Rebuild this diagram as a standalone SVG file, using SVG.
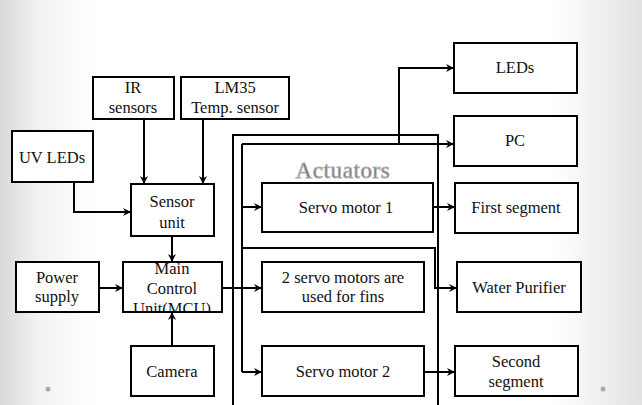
<svg xmlns="http://www.w3.org/2000/svg" width="642" height="405" viewBox="0 0 642 405">
<defs>
<linearGradient id="bg" x1="0" y1="0" x2="1" y2="0">
<stop offset="0" stop-color="#d8d8d8"/>
<stop offset="0.06" stop-color="#f2f2f2"/>
<stop offset="0.15" stop-color="#ffffff"/>
<stop offset="0.86" stop-color="#ffffff"/>
<stop offset="1" stop-color="#e2e2e2"/>
</linearGradient>
<marker id="ah" markerWidth="10" markerHeight="10" refX="9" refY="5" orient="auto" markerUnits="userSpaceOnUse">
<path d="M1,1 L9,5 L1,9 L3.5,5 z" fill="#000"/>
</marker>
<clipPath id="mcuclip"><rect x="120" y="262" width="105" height="51"/></clipPath>
</defs>
<style>
.box{fill:#fff;stroke:#000;stroke-width:2}
.t{font-family:"Liberation Serif",serif;font-size:16.5px;fill:#111;text-anchor:middle}
.c{fill:none;stroke:#000;stroke-width:2}
.a{fill:none;stroke:#000;stroke-width:2;marker-end:url(#ah)}
</style>
<rect width="642" height="405" fill="url(#bg)"/>
<circle cx="48" cy="389" r="2.5" fill="#aaa"/>
<circle cx="603" cy="389" r="2.5" fill="#aaa"/>

<g id="actuators">
<rect class="c" x="233" y="135" width="205" height="280"/>
<text x="343" y="178" style="font-family:'Liberation Serif',serif;font-size:23px;fill:#6e6e6e;stroke:#b0b0b0;stroke-width:0.8;text-anchor:middle;letter-spacing:0.6px">Actuators</text>
</g>

<g id="connectors">
<polyline class="a" points="144,119 144,184"/>
<polyline class="a" points="203,119 203,184"/>
<polyline class="a" points="74,182 74,212 131,212"/>
<polyline class="a" points="172,236 172,262"/>
<polyline class="a" points="99,288 123,288"/>
<polyline class="a" points="172,346 172,312"/>
<polyline class="a" points="222,288 262,288"/>
<polyline class="c" points="242,144 242,372"/>
<polyline class="a" points="242,144 454,144"/>
<polyline class="a" points="399,144 399,68 454,68"/>
<polyline class="a" points="242,207 262,207"/>
<polyline class="a" points="242,372 262,372"/>
<polyline class="a" points="433,207 455,207"/>
<polyline class="a" points="242,248 435,248 435,288 457,288"/>
<polyline class="a" points="424,372 455,372"/>
</g>

<g id="ir"><rect class="box" x="93" y="77" width="81" height="42"/>
<text class="t" x="133" y="93">IR</text><text class="t" x="133" y="113">sensors</text></g>
<g id="lm35"><rect class="box" x="181" y="77" width="108" height="42"/>
<text class="t" x="235" y="93">LM35</text><text class="t" x="235" y="113">Temp. sensor</text></g>
<g id="uvleds"><rect class="box" x="12" y="131" width="81" height="51"/>
<text class="t" x="52" y="163">UV LEDs</text></g>
<g id="sensorunit"><rect class="box" x="131" y="184" width="83" height="52"/>
<text class="t" x="172" y="207">Sensor</text><text class="t" x="172" y="228">unit</text></g>
<g id="power"><rect class="box" x="16" y="262" width="83" height="50"/>
<text class="t" x="57" y="283">Power</text><text class="t" x="57" y="302">supply</text></g>
<g id="mcu"><rect class="box" x="123" y="262" width="99" height="50"/>
<g clip-path="url(#mcuclip)">
<text class="t" x="172" y="274">Main</text><text class="t" x="172" y="294">Control</text><text class="t" x="172" y="314">Unit(MCU)</text></g>
<rect x="123" y="262" width="99" height="50" fill="none" stroke="#000" stroke-width="2"/></g>
<g id="camera"><rect class="box" x="131" y="346" width="83" height="50"/>
<text class="t" x="172" y="377">Camera</text></g>

<g id="servo1"><rect class="box" x="262" y="183" width="171" height="49"/>
<text class="t" x="346" y="213">Servo motor 1</text></g>
<g id="servofins"><rect class="box" x="262" y="262" width="162" height="50"/>
<text class="t" x="343" y="283">2 servo motors are</text><text class="t" x="343" y="302">used for fins</text></g>
<g id="servo2"><rect class="box" x="262" y="346" width="162" height="50"/>
<text class="t" x="343" y="377">Servo motor 2</text></g>

<g id="leds"><rect class="box" x="454" y="43" width="123" height="50"/>
<text class="t" x="515" y="73">LEDs</text></g>
<g id="pc"><rect class="box" x="454" y="116" width="123" height="50"/>
<text class="t" x="515" y="146">PC</text></g>
<g id="firstseg"><rect class="box" x="455" y="183" width="123" height="50"/>
<text class="t" x="516" y="213">First segment</text></g>
<g id="water"><rect class="box" x="457" y="262" width="124" height="50"/>
<text class="t" x="519" y="293">Water Purifier</text></g>
<g id="secondseg"><rect class="box" x="455" y="346" width="123" height="50"/>
<text class="t" x="516" y="367">Second</text><text class="t" x="516" y="387">segment</text></g>
</svg>
